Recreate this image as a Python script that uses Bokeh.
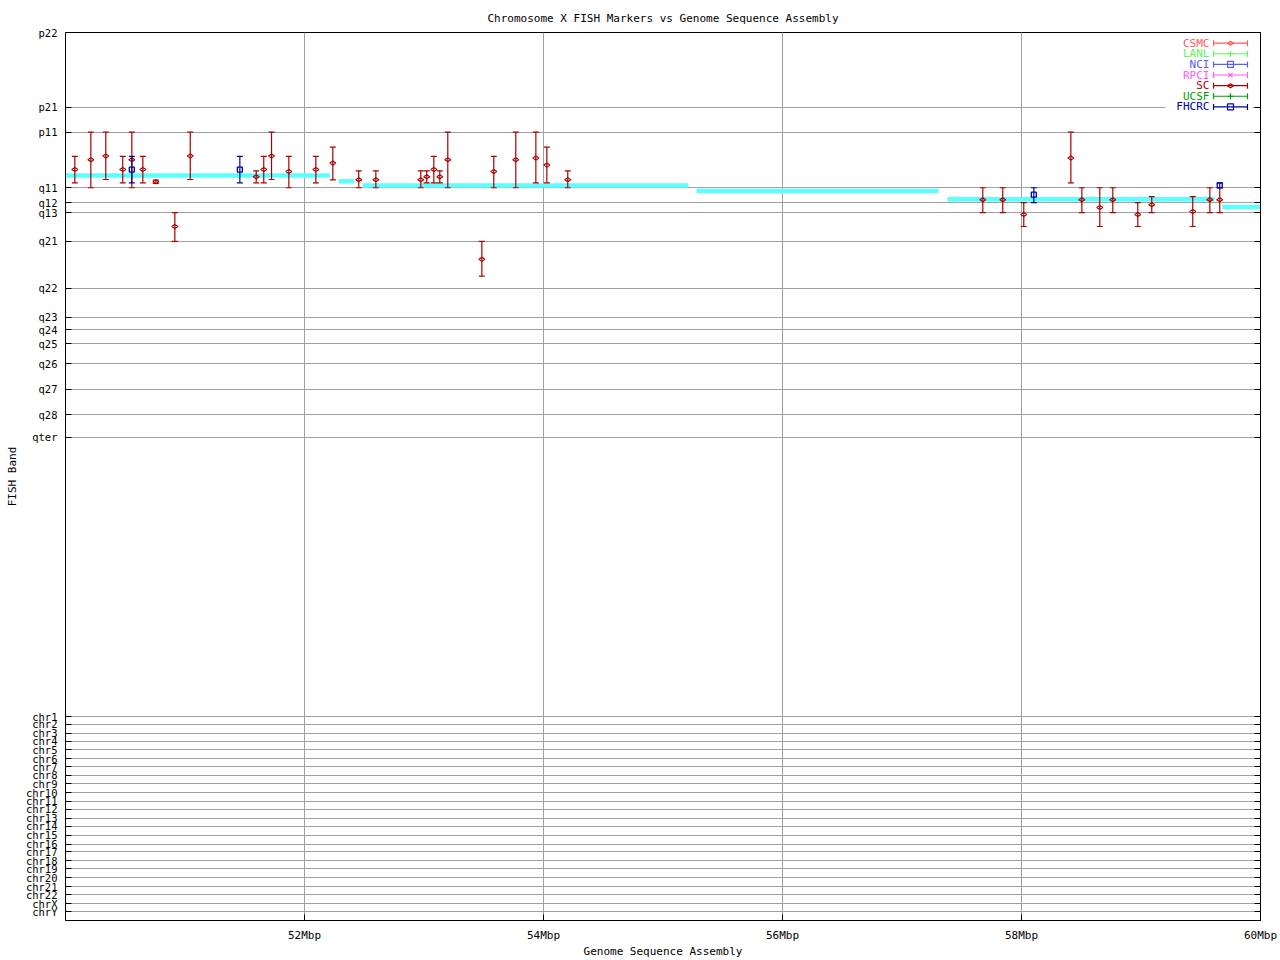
from bokeh.plotting import figure
from bokeh.models import (ColumnDataSource, Range1d, FixedTicker, CustomJSTickFormatter,
                          LinearAxis, Whisker, TeeHead)
from bokeh.core.properties import value
from bokeh.embed import file_html
from bokeh.resources import INLINE

FONT = "DejaVu Sans Mono"
FS = "11px"
FS_Y = "10.5px"

# ---------------- data ----------------
band_labels = ["p22", "p21", "p11", "q11", "q12", "q13", "q21", "q22", "q23", "q24",
               "q25", "q26", "q27", "q28", "qter"]
band_pos = [0, 75.3, 100.3, 156.3, 171.3, 181.3, 210.3, 257.3, 286.7, 299.3,
            313.3, 333.3, 359.3, 384.7, 407.3]
chr_labels = ["chr1", "chr2", "chr3", "chr4", "chr5", "chr6", "chr7", "chr8", "chr9",
              "chr10", "chr11", "chr12", "chr13", "chr14", "chr15", "chr16", "chr17",
              "chr18", "chr19", "chr20", "chr21", "chr22", "chrX", "chrY"]
chr_pos = [688.7, 696.3, 705.3, 713.3, 722, 731, 739, 748, 756.3, 765.3, 774, 782,
           791, 799.3, 808.3, 817, 825, 834, 842, 851, 860, 868.3, 877.3, 885.3]

x_tick_pos = [52, 54, 56, 58, 60]
x_tick_labels = ["52Mbp", "54Mbp", "56Mbp", "58Mbp", "60Mbp"]

# genome sequence assembly contigs (Mbp start/end, band coordinate)
asm_start = [49.98, 52.285, 52.485, 55.28, 57.38, 59.68]
asm_end = [52.21, 52.415, 55.21, 57.305, 59.615, 60.0]
asm_band = [144, 149.8, 154, 159.5, 168, 175.7]

# SC markers
sc_mbp = [50.078, 50.212, 50.337, 50.479, 50.555, 50.647, 50.756, 50.915, 51.044,
          51.596, 51.659, 51.724, 51.869, 52.095, 52.237, 52.454, 52.597, 52.973,
          53.023, 53.082, 53.132, 53.199, 53.484, 53.584, 53.768, 53.936, 54.028,
          54.203, 57.676, 57.843, 58.019, 58.413, 58.505, 58.655, 58.764, 58.973,
          59.090, 59.433, 59.576, 59.659]
sc_band = [138, 128, 124.3, 138, 128, 138, 150.3, 195.3, 124.3,
           145.3, 138, 124.3, 140, 138, 131.3, 148.3, 148.3, 148.3,
           145.3, 138, 145.3, 128, 228.3, 140, 128, 126.3, 133.3,
           148.3, 168.3, 168.3, 183.3, 126.3, 168.3, 176.3, 168.3, 183.3,
           173.3, 180.3, 168.3, 168.3]
sc_band_from = [124.7, 100.3, 100.3, 124.7, 100.3, 124.7, 148.7, 181.3, 100.3,
                139.3, 124.7, 100.3, 124.7, 124.7, 115.3, 139.3, 139.3, 139.3,
                139.3, 124.7, 139.3, 100.3, 210.3, 124.7, 100.3, 100.3, 115.3,
                139.3, 156.3, 156.3, 171.3, 100.3, 156.3, 156.3, 156.3, 171.3,
                165.3, 165.3, 156.3, 156.3]
sc_band_to = [151.3, 156.3, 148, 151.3, 156.3, 151.3, 152, 210.3, 148,
              151.3, 151.3, 148, 156.3, 151.3, 148.3, 156.3, 156.3, 156.3,
              151.3, 151.3, 151.3, 156.3, 245.3, 156.3, 156.3, 151.3, 151.3,
              156.3, 181.3, 181.3, 195.3, 151.3, 181.3, 195.3, 181.3, 195.3,
              181.3, 195.3, 181.3, 181.3]

# FHCRC markers
fh_mbp = [50.555, 51.459, 58.103, 59.659]
fh_band = [138, 138, 163.3, 154]
fh_band_from = [124.7, 124.7, 156.3, 151.3]
fh_band_to = [151.3, 151.3, 171.3, 156.3]

leg_names = ["CSMC", "LANL", "NCI", "RPCI", "SC", "UCSF", "FHCRC"]
leg_colors = ["#ff5a5a", "#5af55a", "#5a5aff", "#ff5aff", "#aa0000", "#00a000", "#0000aa"]
leg_markers = ["diamond", "cross", "square", "x", "diamond", "cross", "square"]

SC_COLOR = leg_colors[4]
FH_COLOR = leg_colors[6]
ASM_COLOR = "#5cffff"
GRID = "#a0a0a0"

# ---------------- figure ----------------
p = figure(width=1280, height=960, x_range=Range1d(50, 60), y_range=Range1d(894, 0),
           output_backend="svg", toolbar_location=None,
           min_border_left=65, min_border_right=20, min_border_top=32, min_border_bottom=34,
           background_fill_color="white", border_fill_color="white",
           title="Chromosome X FISH Markers vs Genome Sequence Assembly")
p.outline_line_color = "black"
p.outline_line_width = 1
p.outline_line_alpha = 1

p.title.align = "center"
p.title.text_font = FONT
p.title.text_font_size = FS
p.title.text_font_style = "normal"
p.title.text_color = "black"
p.title.standoff = 16

nearest = """
let best = 0; let bd = Infinity;
for (let i = 0; i < pos.length; i++) {
  const d = Math.abs(pos[i] - tick);
  if (d < bd) { bd = d; best = i; }
}
return lab[best];
"""

yt = band_pos + chr_pos
yl = band_labels + chr_labels
yticker = FixedTicker(ticks=yt)
yfmt = CustomJSTickFormatter(args=dict(pos=yt, lab=yl), code=nearest)
xticker = FixedTicker(ticks=x_tick_pos)
xfmt = CustomJSTickFormatter(args=dict(pos=x_tick_pos, lab=x_tick_labels), code=nearest)

for ax in (p.xaxis[0], p.yaxis[0]):
    ax.major_tick_in = 6
    ax.major_tick_out = 0
    ax.minor_tick_in = 0
    ax.minor_tick_out = 0
    ax.major_tick_line_color = "black"
    ax.axis_line_color = "black"
    ax.major_label_text_font = FONT
    ax.major_label_text_color = "black"
    ax.axis_label_text_font = FONT
    ax.axis_label_text_font_size = FS
    ax.axis_label_text_font_style = "normal"
    ax.axis_label_text_color = "black"

p.xaxis.ticker = xticker
p.xaxis.formatter = xfmt
p.xaxis.major_label_text_font_size = FS
p.xaxis.major_label_standoff = 8
p.xaxis.axis_label = "Genome Sequence Assembly"
p.xaxis.axis_label_standoff = 0

p.yaxis.ticker = yticker
p.yaxis.formatter = yfmt
p.yaxis.major_label_text_font_size = FS_Y
p.yaxis.major_label_standoff = 8
p.yaxis.axis_label = "FISH Band"
p.yaxis.axis_label_standoff = 4

right = LinearAxis(ticker=yticker, formatter=CustomJSTickFormatter(code="return ''"),
                   major_tick_in=6, major_tick_out=0, minor_tick_in=0, minor_tick_out=0,
                   major_label_standoff=0, axis_line_color="black",
                   major_tick_line_color="black")
p.add_layout(right, "right")

p.xgrid.ticker = xticker
p.ygrid.ticker = yticker
for g in (p.xgrid[0], p.ygrid[0]):
    g.grid_line_color = GRID
    g.grid_line_alpha = 1
    g.grid_line_width = 1

# assembly contigs
p.segment(x0=asm_start, x1=asm_end, y0=asm_band, y1=asm_band,
          line_color=ASM_COLOR, line_width=4.5)


def bars(src, color, dim, base, lo, hi):
    return Whisker(source=src, base=base, upper=hi, lower=lo, dimension=dim,
                   level="annotation", line_color=color, line_width=1.2,
                   upper_head=TeeHead(size=6, line_color=color, line_width=1.2),
                   lower_head=TeeHead(size=6, line_color=color, line_width=1.2))


# SC error bars + markers
sc_src = ColumnDataSource(dict(x=sc_mbp, y=sc_band, lo=sc_band_from, hi=sc_band_to))
p.add_layout(bars(sc_src, SC_COLOR, "height", "x", "lo", "hi"))
p.scatter("x", "y", source=sc_src, marker="diamond", size=6, angle=1.5708,
          fill_color=None, line_color=SC_COLOR, line_width=1.2, level="annotation")

# FHCRC error bars + markers
fh_src = ColumnDataSource(dict(x=fh_mbp, y=fh_band, lo=fh_band_from, hi=fh_band_to))
p.add_layout(bars(fh_src, FH_COLOR, "height", "x", "lo", "hi"))
p.scatter("x", "y", source=fh_src, marker="square", size=5,
          fill_color=None, line_color=FH_COLOR, line_width=1.3, level="annotation")

# legend (gnuplot style, top right inside)
leg_text_x = 59.573
leg_x0, leg_x1, leg_xm = 59.607, 59.891, 59.749
leg_y = [10.7 + 10.7 * i for i in range(len(leg_names))]
p.quad(left=[59.205], right=[59.933], top=[5], bottom=[82], fill_color="white", line_color=None)
leg_src = ColumnDataSource(dict(
    tx=[leg_text_x] * len(leg_names), y=leg_y, name=leg_names, color=leg_colors,
    x0=[leg_x0] * len(leg_names), x1=[leg_x1] * len(leg_names),
    xm=[leg_xm] * len(leg_names), marker=leg_markers,
    angle=[1.5708 if m == "diamond" else 0 for m in leg_markers]))
p.text(x="tx", y="y", text="name", text_color="color", source=leg_src,
       text_align="right", text_baseline="middle",
       text_font=value(FONT), text_font_size=value(FS))
for i, c in enumerate(leg_colors):
    s = ColumnDataSource(dict(y=[leg_y[i]], lo=[leg_x0], hi=[leg_x1]))
    p.add_layout(bars(s, c, "width", "y", "lo", "hi"))
p.scatter(x="xm", y="y", marker="marker", angle="angle", source=leg_src, size=6,
          fill_color=None, line_color="color", line_width=1.2, level="annotation")

open("out.html", "w").write(file_html(p, INLINE))
